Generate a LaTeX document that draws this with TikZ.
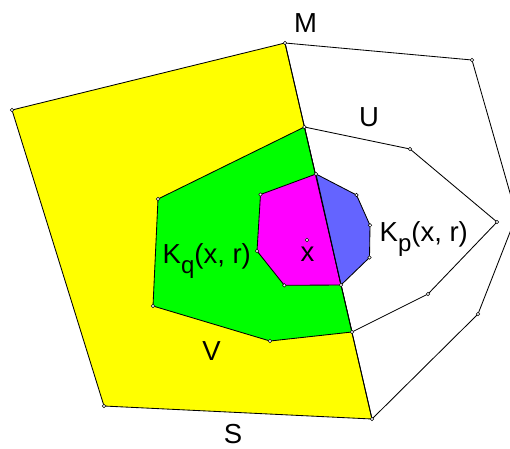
\documentclass[tikz,border=0pt]{standalone}
\usepackage{fontspec}
\setmainfont{Liberation Sans}
\definecolor{cyel}{RGB}{255,255,0}
\definecolor{cgrn}{RGB}{0,255,0}
\definecolor{cmag}{RGB}{255,0,255}
\definecolor{cblu}{RGB}{100,100,255}
\newcommand{\subsz}{\fontsize{24}{28}\selectfont}
\begin{document}
\begin{tikzpicture}[x=1pt,y=-1pt,
  edge/.style={draw=black,line width=0.85pt,line join=round},
  vtx/.style={circle,draw=black,fill=white,line width=0.5pt,inner sep=0pt,minimum size=3.6pt},
  lbl/.style={inner sep=0pt,anchor=base,font=\fontsize{27.5}{32}\selectfont}]
\useasboundingbox (0,0) rectangle (510,448);
\clip (0,0) rectangle (510,448);
% coordinates
\coordinate (M) at (285,43);
\coordinate (SL) at (12,110);
\coordinate (SB) at (104,406);
\coordinate (SR) at (372,419);
\coordinate (O1) at (472,60);
\coordinate (O2) at (516.5,215.6);
\coordinate (O3) at (478,314);
\coordinate (D1) at (304.4,127);
\coordinate (D2) at (316,174);
\coordinate (D3) at (341,285);
\coordinate (D4) at (352,332);
\coordinate (U1) at (410,149);
\coordinate (U2) at (497,222);
\coordinate (U3) at (428,294);
\coordinate (G1) at (158,199);
\coordinate (G2) at (153,306);
\coordinate (G3) at (270,341);
\coordinate (P1) at (260.5,194.5);
\coordinate (P2) at (257,251);
\coordinate (P3) at (284.3,285.3);
\coordinate (B1) at (356.5,195);
\coordinate (B2) at (370,225.3);
\coordinate (B3) at (369.5,257.5);
\coordinate (X) at (307,240);
% fills
\path[fill=cyel,edge] (M) -- (SL) -- (SB) -- (SR) -- cycle;
\path[fill=cgrn,edge] (D1) -- (G1) -- (G2) -- (G3) -- (D4) -- cycle;
\path[fill=cmag,edge] (D2) -- (P1) -- (P2) -- (P3) -- (D3) -- cycle;
\path[fill=cblu,edge] (D2) -- (B1) -- (B2) -- (B3) -- (D3) -- cycle;
% white region outlines
\draw[edge] (M) -- (O1) -- (O2) -- (O3) -- (SR);
\draw[edge] (D1) -- (U1) -- (U2) -- (U3) -- (D4);
\draw[edge] (M) -- (SR);
% vertices
\foreach \p in {M,SL,SB,SR,O1,O3,D1,D2,D3,D4,U1,U2,U3,G1,G2,G3,P1,P2,P3,B1,B2,B3,X}
  \node[vtx] (v\p) at (\p) {};
% labels
\node[lbl] (lM) at (305.5,32) {M};
\node[lbl] (lU) at (369,126.5) {U};
\node[lbl] (lV) at (211.5,360) {V};
\node[lbl] (lS) at (233,443) {S};
\node[lbl] (lx) at (307.5,261.5) {x};
\node[lbl,anchor=base west] (lKq) at (162.5,263) {K\raisebox{-10pt}{\subsz q}(x, r)};
\node[lbl,anchor=base west] (lKp) at (379.5,241.7) {K\raisebox{-10pt}{\subsz p}(x, r)};
\end{tikzpicture}
\end{document}
